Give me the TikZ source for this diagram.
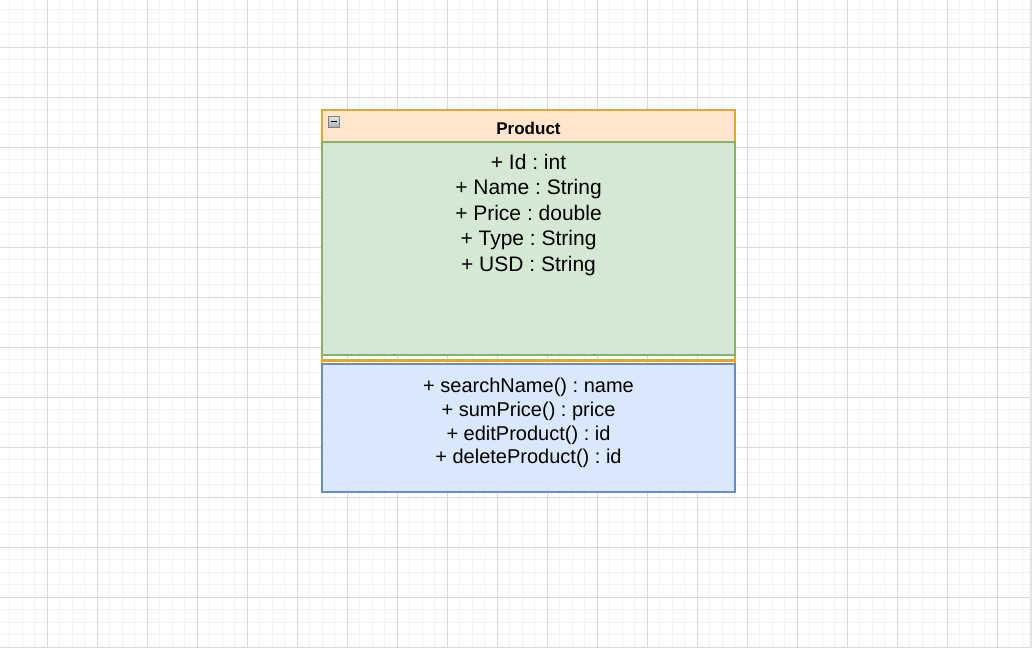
\documentclass[tikz,border=0pt]{standalone}
\usepackage{fontspec}
\setmainfont{Liberation Sans}
\frenchspacing
\definecolor{hdrfill}{HTML}{FFE6CC}
\definecolor{hdrline}{HTML}{E2A72E}
\definecolor{attrfill}{HTML}{D5E8D4}
\definecolor{attrline}{HTML}{82B366}
\definecolor{methfill}{HTML}{DAE8FC}
\definecolor{methline}{HTML}{6C8EBF}
\definecolor{gridminor}{HTML}{F3F3F3}
\definecolor{gridmajor}{HTML}{D9D9D9}
\definecolor{edgegray}{HTML}{E3E3E3}
\definecolor{iconline}{HTML}{7A7F88}
\definecolor{icontop}{HTML}{E8E9EC}
\definecolor{iconbottom}{HTML}{A9ADB5}
\begin{document}
\begin{tikzpicture}[x=1pt,y=-1pt,
  minorgrid/.style={draw=gridminor,line width=1pt},
  majorgrid/.style={draw=gridmajor,line width=1pt},
  box/.style={rectangle,inner sep=0pt,outer sep=0pt,line width=1.2pt,minimum width=413pt,anchor=north west},
  titletext/.style={font=\bfseries\fontsize{17}{20}\selectfont,inner sep=0pt,anchor=base},
  attrtext/.style={font=\fontsize{21}{25}\selectfont,inner sep=0pt,anchor=base},
  methtext/.style={font=\fontsize{20}{24}\selectfont,inner sep=0pt,anchor=base},
  collapsebox/.style={rectangle,inner sep=0pt,outer sep=0pt,minimum size=11pt,draw=iconline,line width=0.9pt,top color=icontop,bottom color=iconbottom}
]
\useasboundingbox (0,0) rectangle (1033,648);
\fill[white] (0,0) rectangle (1033,648);
% grid
\foreach \i in {0,...,81} {\draw[minorgrid] ({9.8+12.5*\i},0) -- ({9.8+12.5*\i},648);}
\foreach \i in {0,...,50} {\draw[minorgrid] (0,{9.8+12.5*\i}) -- (1030,{9.8+12.5*\i});}
\foreach \i in {0,...,19} {\draw[majorgrid] ({47.3+50*\i},0) -- ({47.3+50*\i},648);}
\foreach \i in {0,...,12} {\draw[majorgrid] (0,{47.3+50*\i}) -- (1030,{47.3+50*\i});}
\draw[edgegray,line width=2pt] (1031,0) -- (1031,648);
% class container
\node[box,draw=hdrline,minimum height=382pt] (cls) at (322,110) {};
\node[box,draw=hdrline,fill=hdrfill,minimum height=32pt] (hdr) at (322,110) {};
\node[box,draw=attrline,fill=attrfill,minimum height=213pt] (attrs) at (322,142) {};
\coordinate (sepL) at (322,360.5);
\coordinate (sepR) at (735,360.5);
\draw[hdrline,line width=2.2pt] (sepL) -- (sepR);
\node[box,draw=methline,fill=methfill,minimum height=128pt] (meths) at (322,364) {};
% collapse icon
\node[collapsebox] (collapse) at (333.5,121.5) {};
\draw[black,line width=1.8pt] ([xshift=-3pt]collapse.center) -- ([xshift=3pt]collapse.center);
% texts
\node[titletext] (title) at (528.5,134) {Product};
\node[attrtext] (a1) at (528.5,169) {+ Id : int};
\node[attrtext] (a2) at (528.5,194.5) {+ Name : String};
\node[attrtext] (a3) at (528.5,220) {+ Price : double};
\node[attrtext] (a4) at (528.5,245.5) {+ Type : String};
\node[attrtext] (a5) at (528.5,271) {+ USD : String};
\node[methtext] (m1) at (528.5,392.3) {+ searchName() : name};
\node[methtext] (m2) at (528.5,416) {+ sumPrice() : price};
\node[methtext] (m3) at (528.5,440) {+ editProduct() : id};
\node[methtext] (m4) at (528.5,463.5) {+ deleteProduct() : id};
\end{tikzpicture}
\end{document}
